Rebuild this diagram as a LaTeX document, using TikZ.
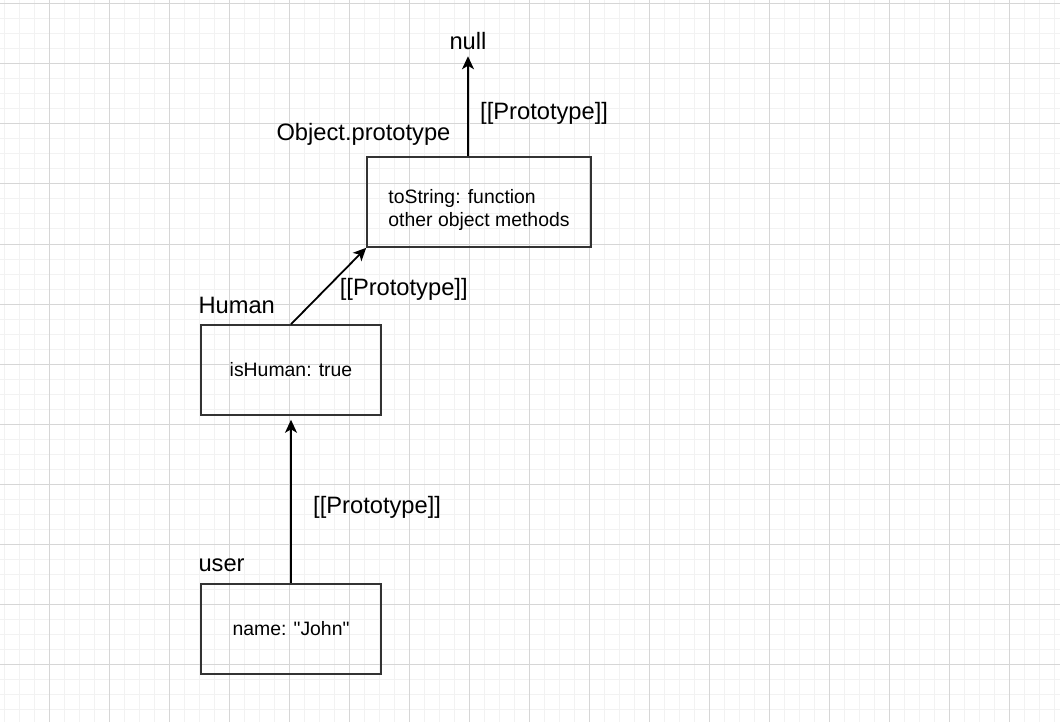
\documentclass[tikz,border=0pt]{standalone}
\usepackage{fontspec}
\setmainfont{Liberation Sans}[Ligatures=TeXOff]
\usetikzlibrary{arrows.meta,calc,positioning}
\definecolor{gridminor}{HTML}{F2F2F2}
\definecolor{gridmajor}{HTML}{D6D6D6}
\definecolor{boxline}{HTML}{333333}

\begin{document}
\begin{tikzpicture}[x=1pt,y=1pt,>={Stealth[length=13pt,width=12pt,inset=3.5pt]},
 every node/.style={font=\fontsize{23.7}{28}\selectfont},
 box/.style={draw=boxline,line width=1.6pt,minimum width=180pt,minimum height=90pt,
  font=\fontsize{19.4}{23}\selectfont},
 link/.style={->,line width=1.8pt}]
\useasboundingbox (0,0) rectangle (1060,-722);
% grid
\foreach \k in {4,19,...,1060} \draw[gridminor,line width=1pt] (\k,0)--(\k,-722);
\foreach \k in {4,19,...,722} \draw[gridminor,line width=1pt] (0,-\k)--(1060,-\k);
\foreach \k in {49,109,...,1060} \draw[gridmajor,line width=1pt] (\k,0)--(\k,-722);
\foreach \k in {4,64,...,722} \draw[gridmajor,line width=1pt] (0,-\k)--(1060,-\k);
% objects
\node[box] (user) at (291,-629) {name: "John"};
\node[box] (human) at (291,-370) {isHuman: true};
\node[box,minimum width=224pt,align=left] (obj) at (479,-202)
 {\rule{0pt}{31pt}toString: function\\other object methods};
\node (null) at (468,-41) {null};
% names
\node[anchor=west] (username) at (195,-565) {user};
\node[anchor=west] (humanname) at (195,-305) {Human};
\node[anchor=west] (objname) at (273,-134) {Object.prototype};
% prototype links
\draw[link,shorten >=4pt] (user) -- node[pos=0.48,right=18pt,yshift=-5pt] {[[Prototype]]} (human);
\draw[link] (human.north) -- node[midway,anchor=west,xshift=7pt,yshift=-3pt] {[[Prototype]]} (obj.south west);
\draw[link,shorten >=3pt] (obj.north -| null) -- node[pos=0.45,right=8pt,yshift=-4pt] {[[Prototype]]} (null);
\end{tikzpicture}
\end{document}
